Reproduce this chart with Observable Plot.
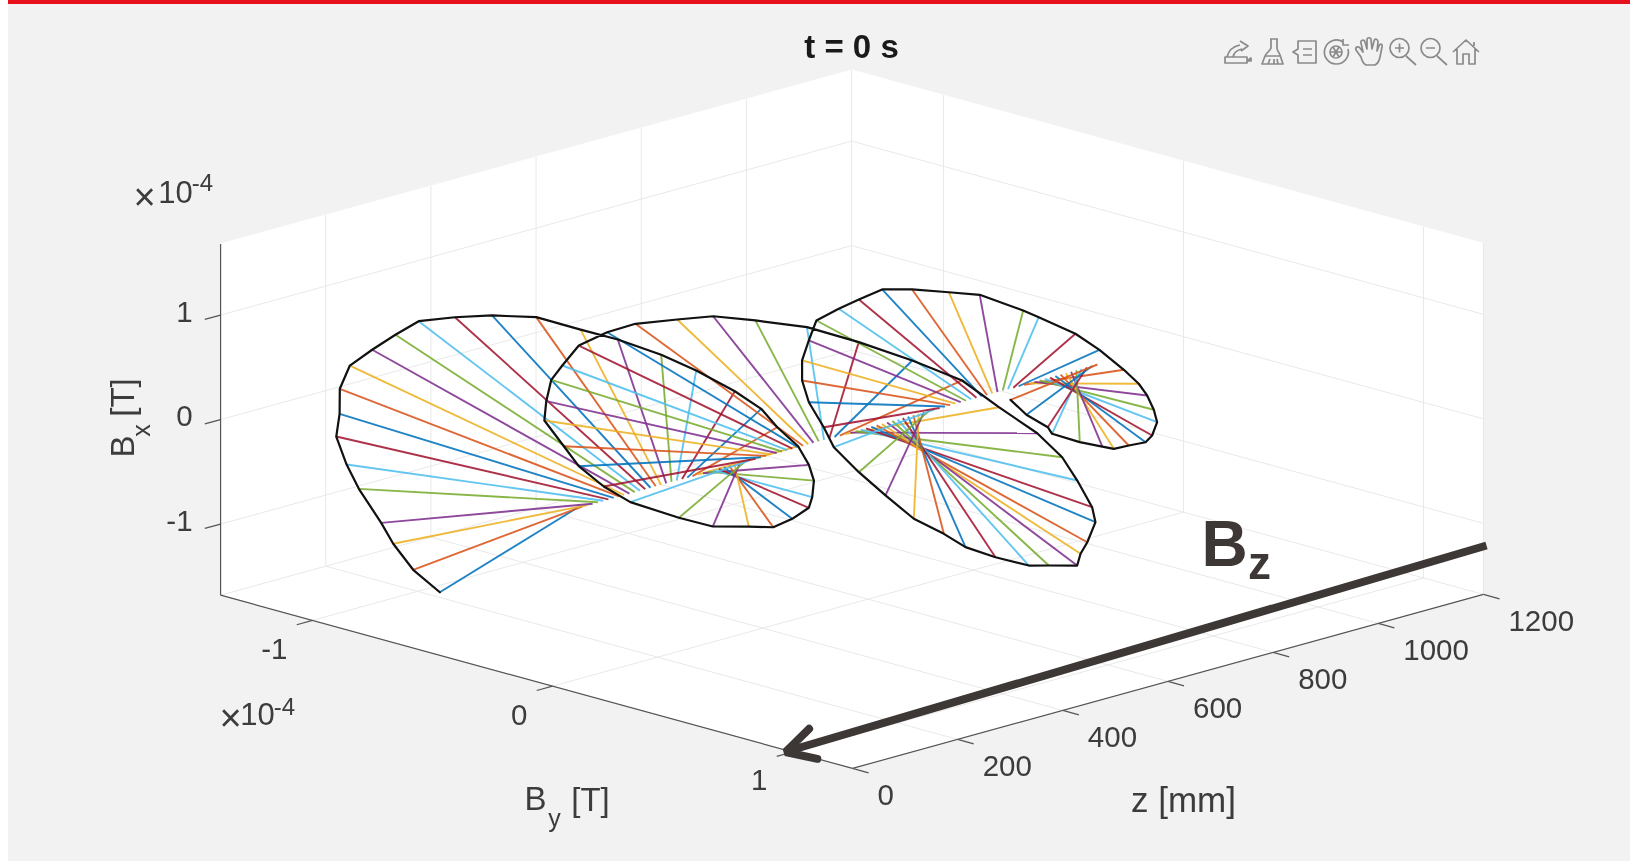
<!DOCTYPE html>
<html>
<head>
<meta charset="utf-8">
<script src="https://cdn.jsdelivr.net/npm/d3@7"></script>
<script src="https://cdn.jsdelivr.net/npm/@observablehq/plot@0.6"></script>
<style>
html,body{margin:0;padding:0;background:#fff;overflow:hidden}
svg{display:block;filter:blur(.4px)}
</style>
</head>
<body>
<div id="chart"></div>
<script>
// Field samples along the beam axis
const zSamples = [50,60,70,80,90,100,110,120,130,140,150,160,170,180,190,200,210,220,230,240,250,260,270,280,290,300,310,320,330,340,350,360,370,380,390,400,410,420,430,440,450,460,470,480,490,500,510,520,530,540,550,560,570,580,590,600,610,620,630,640,650,660,670,680,690,700,710,720,730,740,750,760,770,780,790,800,810,820,830,840,850,860,870,880,890,900,910,920,930,940,950,960,970,980,990,1000,1010,1020,1030,1040];
const tipBy = [-.579,-.712,-.817,-.889,-1.004,-1.077,-1.142,-1.150,-1.171,-1.151,-1.080,-1.005,-.930,-.801,-.668,-.506,-.343,-.210,-.051,.073,.212,.300,.345,.410,.433,.432,.403,.367,.276,.175,.051,-.121,-.284,-.508,-.641,-.767,-.851,-.954,-.968,-.969,-.945,-.898,-.802,-.706,-.554,-.426,-.272,-.079,.115,.316,.502,.633,.771,.853,.894,.934,.926,.870,.820,.784,.644,.539,.378,.231,.119,-.028,-.168,-.301,-.427,-.491,-.575,-.625,-.647,-.641,-.631,-.560,-.498,-.423,-.320,-.189,-.082,.077,.120,.251,.329,.409,.449,.462,.468,.460,.417,.368,.276,.192,.122,.006,-.131,-.171,-.282,-.370];
const tipBx = [-1.215,-1.098,-.929,-.788,-.549,-.376,-.163,.035,.248,.469,.651,.828,.991,1.096,1.183,1.255,1.225,1.200,1.140,1.054,.929,.802,.640,.486,.308,.143,-.048,-.186,-.363,-.521,-.606,-.728,-.761,-.766,-.714,-.613,-.489,-.321,-.159,.031,.169,.376,.550,.677,.800,.898,.941,.984,.949,.886,.798,.611,.435,.243,.032,-.212,-.374,-.615,-.771,-.920,-1.022,-1.102,-1.138,-1.148,-1.105,-1.067,-.946,-.821,-.675,-.538,-.366,-.203,-.039,.142,.326,.469,.582,.712,.763,.805,.834,.770,.719,.629,.511,.356,.234,.116,-.031,-.169,-.337,-.446,-.549,-.648,-.684,-.729,-.749,-.725,-.690,-.616];
const axisBy = -0.008, axisBx = -0.05;

// Axes
const zTicks = [0,200,400,600,800,1000,1200];
const byTicks = [-1,0,1];
const bxTicks = [1,0,-1];
const zLim = [0,1200], byLim = [-1.383,1.25], bxLim = [-1.68,1.68];
const palette = ["#0072BD","#D95319","#EDB120","#7E2F8E","#77AC30","#4DBEEE","#A2142F"];

// Fixed camera of the 3-D view
const px = (z,by) => 552 + 240*by + 0.5258*z;
const py = (z,by,bx) => 510.1 + 65.8*by - 0.145*z - 104.5*bx;

const seg = (a,b) => ({x1:px(a[0],a[1]),y1:py(a[0],a[1],a[2]),x2:px(b[0],b[1]),y2:py(b[0],b[1],b[2])});
const [z0,z1]=zLim,[by0,by1]=byLim,[bx0,bx1]=bxLim;

const grid = [
  ...[...zTicks].map(z=>seg([z,by0,bx0],[z,by0,bx1])),
  ...bxTicks.map(b=>seg([z0,by0,b],[z1,by0,b])),
  ...[...byTicks,by1].map(b=>seg([z1,b,bx0],[z1,b,bx1])),
  ...bxTicks.map(b=>seg([z1,by0,b],[z1,by1,b])),
  ...[...byTicks,by0].map(b=>seg([z0,b,bx0],[z1,b,bx0])),
  ...zTicks.map(z=>seg([z,by0,bx0],[z,by1,bx0]))
];
const axisLines = [
  seg([z0,by0,bx0],[z0,by0,bx1]),
  seg([z0,by0,bx0],[z0,by1,bx0]),
  seg([z0,by1,bx0],[z1,by1,bx0])
];
const tickLines = [
  ...zTicks.map(z=>seg([z,by1,bx0],[z,by1+.067,bx0])),
  ...byTicks.map(b=>seg([z0,b,bx0],[-30,b,bx0])),
  ...bxTicks.map(b=>seg([z0,by0,b],[-30,by0,b]))
];
const pane = [
  {x:px(z0,by0), y1:py(z0,by0,bx0), y2:py(z0,by0,bx1)},
  {x:px(z0,by1), y1:py(z0,by1,bx0), y2:py(z1,by0,bx1)},
  {x:px(z1,by1), y1:py(z1,by1,bx0), y2:py(z1,by1,bx1)}
];
const spokes = zSamples.map((z,i)=>({...seg([z,axisBy,axisBx],[z,tipBy[i],tipBx[i]]),c:palette[i%7]}));
const tipPath = zSamples.map((z,i)=>({x:px(z,tipBy[i]),y:py(z,tipBy[i],tipBx[i])}));

const arrowShaft = [{x:1486,y:545},{x:786,y:751}];
const arrowHead = [{x:808.6,y:728.3},{x:785,y:751.5},{x:816.8,y:758.3}];

const textColor = "#3c3c3c";
const font = "Liberation Sans, Arial, sans-serif";
const T = (data,o) => Plot.text(data,{x:"x",y:"y",text:"t",fontFamily:font,fill:textColor,fontSize:29.5,...o});

const plot = Plot.plot({
  width:1630,height:861,margin:0,
  style:{background:"transparent",overflow:"hidden"},
  x:{domain:[0,1630],range:[0,1630],axis:null},
  y:{domain:[0,861],range:[0,861],axis:null},
  marks:[
    Plot.rect([{}],{x1:()=>8,x2:()=>1630,y1:()=>0,y2:()=>861,fill:"#f2f2f2"}),
    Plot.rect([{}],{x1:()=>8,x2:()=>1630,y1:()=>0,y2:()=>4,fill:"#e8101c"}),
    Plot.areaY(pane,{x:"x",y1:"y1",y2:"y2",fill:"#ffffff"}),
    Plot.link(grid,{x1:"x1",y1:"y1",x2:"x2",y2:"y2",stroke:"#e9e9e9",strokeWidth:1}),
    Plot.link(axisLines,{x1:"x1",y1:"y1",x2:"x2",y2:"y2",stroke:"#555555",strokeWidth:1.2}),
    Plot.link(tickLines,{x1:"x1",y1:"y1",x2:"x2",y2:"y2",stroke:"#555555",strokeWidth:1.2}),
    Plot.link(spokes,{x1:"x1",y1:"y1",x2:"x2",y2:"y2",stroke:"c",strokeWidth:1.9,strokeOpacity:.88}),
    Plot.line(tipPath,{x:"x",y:"y",stroke:"#111111",strokeWidth:2.2,curve:"linear",strokeLinejoin:"round"}),
    // tick labels
    Plot.text(zTicks,{x:z=>px(z,by1),y:z=>py(z,by1,bx0),text:d=>String(d),dx:25,dy:27,textAnchor:"start",fontFamily:font,fontSize:29.5,fill:textColor}),
    Plot.text(byTicks,{x:b=>px(z0,b),y:b=>py(z0,b,bx0),text:d=>String(d),dx:-25,dy:29,textAnchor:"end",fontFamily:font,fontSize:29.5,fill:textColor}),
    Plot.text(bxTicks,{x:b=>px(z0,by0),y:b=>py(z0,by0,b),text:d=>String(d),dx:-28,dy:-3,textAnchor:"end",fontFamily:font,fontSize:29.5,fill:textColor}),
    // title and axis labels
    T([{x:851,y:47,t:"t = 0 s"}],{fontSize:33,fontWeight:"bold",fill:"#1a1a1a"}),
    T([{x:1183,y:800,t:"z [mm]"}],{fontSize:35}),
    T([{x:535,y:799,t:"B"},{x:590,y:800,t:"[T]"}],{fontSize:33}),
    T([{x:554,y:818,t:"y"}],{fontSize:25}),
    T([{x:123,y:446,t:"B"},{x:123,y:397,t:"[T]"}],{fontSize:33,rotate:-90}),
    T([{x:141,y:430,t:"x"}],{fontSize:25,rotate:-90}),
    // exponent notes
    T([{x:144,y:197,t:"×"},{x:230,y:718,t:"×"}],{fontSize:38,fontWeight:"300"}),
    T([{x:175,y:193,t:"10"},{x:257,y:715,t:"10"}],{fontSize:31}),
    T([{x:202,y:183,t:"-4"},{x:284,y:707,t:"-4"}],{fontSize:24}),
    // Bz annotation
    Plot.line(arrowShaft,{x:"x",y:"y",stroke:"#3d3835",strokeWidth:8,strokeLinecap:"butt"}),
    Plot.line(arrowHead,{x:"x",y:"y",stroke:"#3d3835",strokeWidth:8,strokeLinecap:"round",strokeLinejoin:"miter"}),
    T([{x:1224,y:545,t:"B"}],{fontSize:64,fontWeight:"bold",fill:"#3d3835"}),
    T([{x:1259,y:564,t:"z"}],{fontSize:46,fontWeight:"bold",fill:"#3d3835"})
  ]
});
document.getElementById("chart").append(plot);

// Figure toolbar glyphs
const icons = [
  [1238,"M-13 11H9V5H-13ZM-11 5C-9 -3 -3 -6 2 -7M-5 5C-4 0 -1 -2 4 -3M2 -11L10 -6L3 -1M9 9L13 9L13 6Z"],
  [1272,"M-2 -13H6M-1 -13V-4C-2 -1 -6 1 -7 4L-10 12H11L8 3C7 0 5 -1 5 -4V-13M-7 4H8M-4 12L-2 7M2 12V7M6 12L5 7"],
  [1305,"M-7 -11H11V11H-7V3L-12 0L-7 -3ZM-2 -3H7M-2 3H7"],
  [1336,"M7 -10A12 12 0 1 0 12 -3M7 -13V-7H13M-6 0A6 6 0 1 0 6 0A6 6 0 1 0 -6 0M-6 0H6M-3 -5L3 5M3 -5L-3 5"],
  [1369,"M-8 5L-13 -2C-14 -5 -11 -6 -9 -4L-6 0L-8 -9C-9 -12 -5 -13 -4 -10L-2 -3L-2 -12C-2 -15 2 -15 2 -12L3 -3L5 -11C6 -14 9 -13 9 -10L8 -1L10 -6C11 -9 14 -8 13 -5L11 5C10 10 8 12 6 13H-3C-5 12 -7 9 -8 5Z"],
  [1402,"M-12 -4A9.5 9.5 0 1 0 7 -4A9.5 9.5 0 1 0 -12 -4M4 4L14 13M-7 -4H2M-2.5 -8.5V0.5"],
  [1433,"M-12 -4A9.5 9.5 0 1 0 7 -4A9.5 9.5 0 1 0 -12 -4M4 4L14 13M-7 -4H2"],
  [1466,"M-13 0L0 -12L13 0M-9 -3V12H-3V2H3V12H9V-3M8 -10V-6"]
];
const g = d3.select(plot).append("g").attr("fill","none").attr("stroke","#8a8a8a").attr("stroke-width",1.7).attr("stroke-linejoin","round");
icons.forEach(([x,d])=>g.append("path").attr("transform",`translate(${x},52)`).attr("d",d));
</script>
</body>
</html>
